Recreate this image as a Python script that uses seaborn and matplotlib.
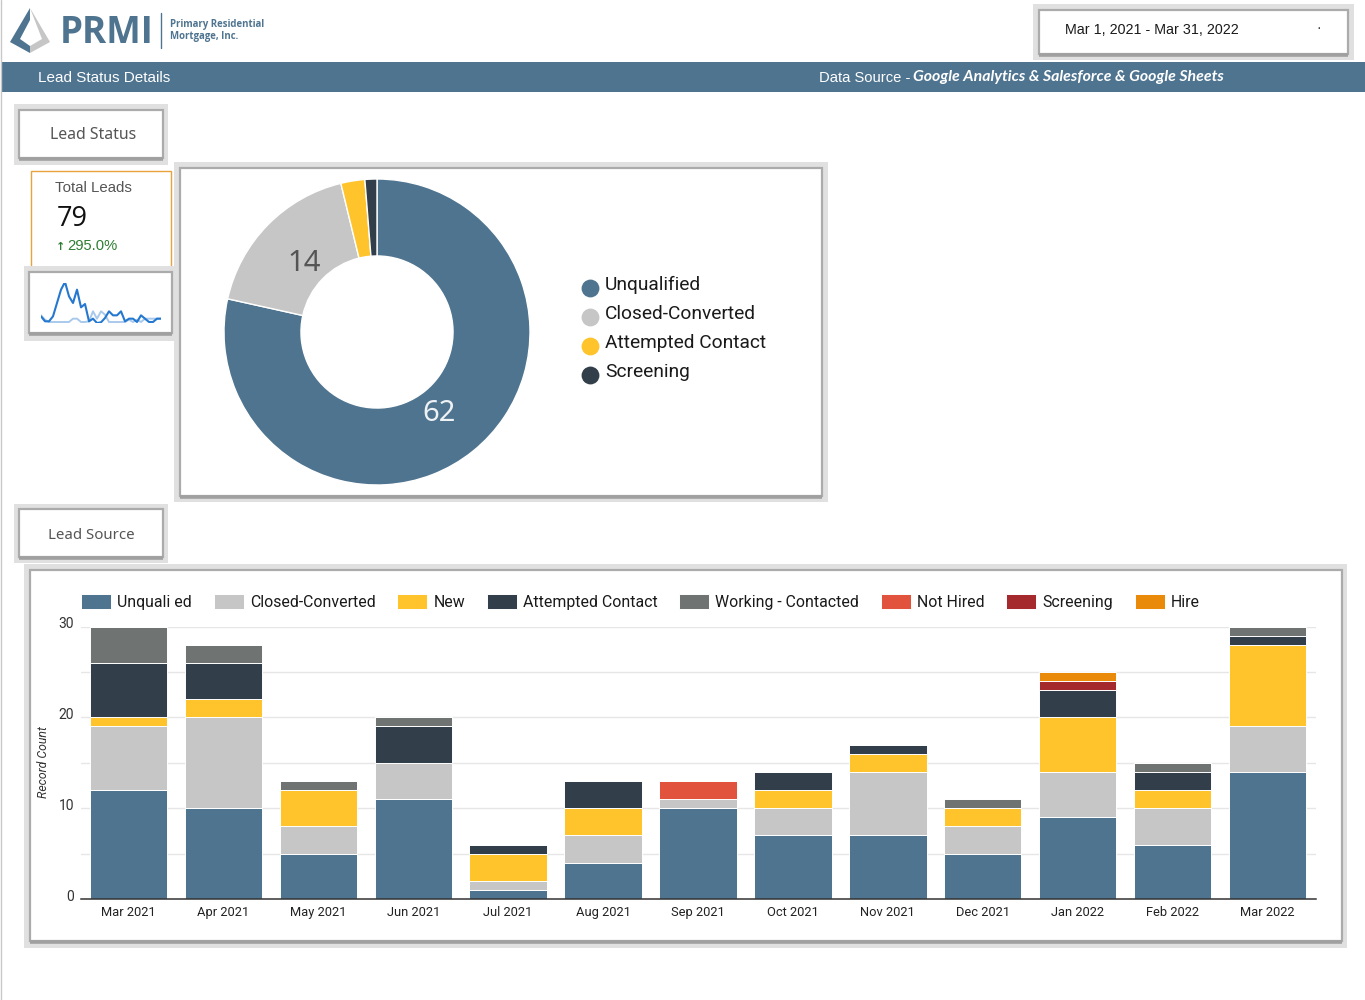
import matplotlib
matplotlib.use('Agg')
import matplotlib.pyplot as plt
from matplotlib.patches import Polygon, Rectangle
from matplotlib.transforms import ScaledTranslation
import numpy as np
import seaborn as sns

# lead source, record count per month
months = ['Mar 2021', 'Apr 2021', 'May 2021', 'Jun 2021', 'Jul 2021', 'Aug 2021', 'Sep 2021',
          'Oct 2021', 'Nov 2021', 'Dec 2021', 'Jan 2022', 'Feb 2022', 'Mar 2022']
unqualified = [12, 10, 5, 11, 1, 4, 10, 7, 7, 5, 9, 6, 14]
closed_converted = [7, 10, 3, 4, 1, 3, 1, 3, 7, 3, 5, 4, 5]
new = [1, 2, 4, 0, 3, 3, 0, 2, 2, 2, 6, 2, 9]
attempted = [6, 4, 0, 4, 1, 3, 0, 2, 1, 0, 3, 2, 1]
working = [4, 2, 1, 1, 0, 0, 0, 0, 0, 1, 0, 1, 1]
not_hired = [0, 0, 0, 0, 0, 0, 2, 0, 0, 0, 0, 0, 0]
screening = [0, 0, 0, 0, 0, 0, 0, 0, 0, 0, 1, 0, 0]
hire = [0, 0, 0, 0, 0, 0, 0, 0, 0, 0, 1, 0, 0]
series_names = ['Unquali ed', 'Closed-Converted', 'New', 'Attempted Contact', 'Working - Contacted',
                'Not Hired', 'Screening', 'Hire']
series_values = [unqualified, closed_converted, new, attempted, working, not_hired, screening, hire]
series_colors = ['#4f7490', '#c6c6c6', '#ffc42b', '#323e49', '#6f7372', '#e2533d', '#a52a2d', '#ea8a0b']

# lead status donut
status_names = ['Unqualified', 'Closed-Converted', 'Attempted Contact', 'Screening']
status_values = [62, 14, 2, 1]
status_colors = ['#4f7490', '#c6c6c6', '#ffc42b', '#323e49']

# sparkline of total leads
spark_days = list(range(31))
spark_current = [2, 0.5, 0.5, 2, 6, 10, 12.3, 8, 6, 10, 4.7, 5.7, 0.5, 1.3, 0, 0.2, 1.5, 3.5, 2.3, 2.3,
                 3.5, 0.5, 1.3, 1.3, 0.3, 2.3, 1.3, 0.3, 0.3, 1.3, 1.3]
spark_previous = [2.3, 1, 0.3, 0.3, 0.3, 0.3, 0.3, 0.3, 1.3, 1.3, 0.3, 0.3, 0.5, 3.5, 1.3, 3.5, 2.5, 0.3, 0.3, 0.3,
                  0.3, 0.3, 1, 0.3, 1, 0.3, 1.3, 1.3, 1.3, 1.3, 1.3]

sns.set_theme(style='white')
plt.rcParams['font.family'] = ['Liberation Sans', 'DejaVu Sans']

W, H = 1365, 1000
fig = plt.figure(figsize=(W / 100, H / 100), dpi=100)

# page layer in pixel coordinates
page = fig.add_axes([0, 0, 1, 1], zorder=0)
page.set_xlim(0, W)
page.set_ylim(H, 0)
page.axis('off')


def add_ax(x0, y0, x1, y1):
    ax = fig.add_axes([x0 / W, 1 - y1 / H, (x1 - x0) / W, (y1 - y0) / H], zorder=1)
    ax.patch.set_visible(False)
    return ax


def panel(outer, inner):
    page.add_patch(Rectangle((outer[0], outer[1]), outer[2] - outer[0], outer[3] - outer[1], fc='#e0e0e0', ec='none'))
    page.add_patch(Rectangle((inner[0], inner[1]), inner[2] - inner[0], inner[3] - inner[1], fc='white', ec='#ababab', lw=1.6))
    page.plot([inner[0], inner[2]], [inner[3] + 0.5, inner[3] + 0.5], color='#a0a0a0', lw=2.6, solid_capstyle='butt')


page.plot([0.5, 0.5], [0, H], color='#c8c8c8', lw=1)

# logo
page.add_patch(Polygon([(30, 8), (10, 42), (30, 53), (30, 46), (20, 39), (30, 20)], fc='#4f7490', ec='none'))
page.add_patch(Polygon([(30, 8), (50, 42), (30, 53), (30, 46), (42, 39)], fc='#c6c6c6', ec='none'))
page.text(60, 33, 'PRMI', color='#4f7490', fontsize=26.5, fontweight='bold', family='Open Sans', va='center')
page.plot([160.5, 160.5], [13, 48], color='#4f7490', lw=1)
page.text(170, 25, 'Primary Residential', color='#4f7490', fontsize=6.9, fontweight='bold', family='Open Sans', va='center')
page.text(170, 36.5, 'Mortgage, Inc.', color='#4f7490', fontsize=6.9, fontweight='bold', family='Open Sans', va='center')

# header band
page.add_patch(Rectangle((1, 62), W, 30, fc='#4f7490', ec='none'))
page.text(38, 78, 'Lead Status Details', color='white', fontsize=11, va='center')
page.text(819, 78, 'Data Source - ', color='white', fontsize=10.6, va='center')
page.text(913, 77.5, 'Google Analytics & Salesforce & Google Sheets', color='white', fontsize=11.4,
          family='Lato', fontweight='bold', style='italic', va='center')

# date range
panel((1033, 4, 1354, 60), (1039, 10, 1348, 54))
page.text(1065, 30.5, 'Mar 1, 2021 - Mar 31, 2022', color='#1a1a1a', fontsize=10.3, va='center')
page.text(1316, 28, '·', color='#333333', fontsize=10, va='center')

# section titles
panel((14, 104, 168, 165), (19, 110, 163, 158))
page.text(93, 135, 'Lead Status', color='#555555', fontsize=11.4, family='Noto Sans', ha='center', va='center')
panel((14, 504, 168, 563), (19, 509, 163, 557))
page.text(91, 535.5, 'Lead Source', color='#555555', fontsize=10.8, family='Noto Sans', ha='center', va='center')

# scorecard
page.add_patch(Rectangle((31, 171), 140, 101, fc='white', ec='#e8a33d', lw=1))
page.text(55, 188.5, 'Total Leads', color='#555555', fontsize=10.8, va='center')
page.text(56.5, 218.5, '79', color='#111111', fontsize=19.5, family='Open Sans', va='center')
page.text(56, 247, '↑', color='#2e7d32', fontsize=8, family='DejaVu Sans', fontweight='bold', va='center')
page.text(67, 246, '295.0%', color='#2e7d32', fontsize=10.6, va='center')

panel((24, 266, 177, 341), (29, 272, 172, 333))
spark = add_ax(41, 283, 161, 323)
sns.lineplot(x=spark_days, y=spark_previous, color='#a9c9ec', lw=1.4, ax=spark)
sns.lineplot(x=spark_days, y=spark_current, color='#2478cf', lw=1.5, ax=spark)
spark.set_xlim(0, 30)
spark.set_ylim(0, 12)
spark.axis('off')

# donut
panel((174, 162, 828, 502), (180, 168, 822, 496))
donut = add_ax(224, 179, 530, 485)
wedges, _, autotexts = donut.pie(status_values, colors=status_colors, startangle=90, counterclock=False, radius=1,
                                 wedgeprops={'width': 0.503}, pctdistance=0.66,
                                 autopct=lambda p: f'{p * sum(status_values) / 100:.0f}' if p > 10 else '')
donut.set_xlim(-1, 1)
donut.set_ylim(-1, 1)
down = ScaledTranslation(-1 / 100, -2.5 / 100, fig.dpi_scale_trans)
for t, c in zip(autotexts, ['#eef2f5', '#555555', 'white', 'white']):
    t.set_color(c)
    t.set_fontsize(21)
    t.set_family('Noto Sans')
    t.set_transform(t.get_transform() + down)

for i, (name, color) in enumerate(zip(status_names, status_colors)):
    page.scatter(589.5, 288 + i * 29, s=165, color=color, linewidths=0)
    page.text(605, 285 + i * 29, name, color='#1a1a1a', fontsize=13.8, family='Roboto', va='center')
page.set_xlim(0, W)
page.set_ylim(H, 0)

# lead source bars
panel((24, 564, 1347, 948), (30, 570, 1342, 941))
ax = add_ax(81, 626.5, 1316, 899)
bottom = np.zeros(len(months))
for name, values, color in zip(series_names, series_values, series_colors):
    sns.barplot(x=months, y=values, bottom=bottom, color=color, saturation=1, width=0.815, label=name,
                edgecolor='white', linewidth=0.7, ax=ax, zorder=2)
    bottom = bottom + np.array(values)

ax.set_xlim(-0.5, 12.51)
ax.set_ylim(0, 30)
ax.set_yticks(range(0, 31, 5))
ax.set_yticklabels(['0', '', '10', '', '20', '', '30'], fontsize=10, color='#333333', family='Roboto')
ax.tick_params(axis='x', labelsize=9.3, labelcolor='#222222', length=0, pad=5)
ax.tick_params(axis='y', length=0, pad=5)
for label in ax.get_xticklabels():
    label.set_family('Roboto')
shift = ScaledTranslation(0, 3.5 / 100, fig.dpi_scale_trans)
for label in ax.get_yticklabels():
    label.set_transform(label.get_transform() + shift)
ax.grid(axis='y', color='#e6e6e6', lw=1)
ax.set_axisbelow(True)
for side in ['top', 'left', 'right']:
    ax.spines[side].set_visible(False)
ax.spines['bottom'].set_color('#333333')
ax.spines['bottom'].set_linewidth(1.1)
ax.set_xlabel('')
ax.set_ylabel('')
page.text(43.5, 762, 'Record Count', color='#333333', fontsize=8.8, style='italic', family='Roboto',
          rotation=90, ha='center', va='center')

handles, labels = ax.get_legend_handles_labels()
ax.legend(handles, labels, ncol=8, loc='lower left', bbox_to_anchor=(0, 1.06), frameon=False, borderpad=0,
          borderaxespad=0, handlelength=1.9, handleheight=1.05, handletextpad=0.39,
          columnspacing=1.36, labelcolor='#1a1a1a', prop={'family': 'Roboto', 'size': 11.4})

fig.savefig('out.png', dpi=100)
